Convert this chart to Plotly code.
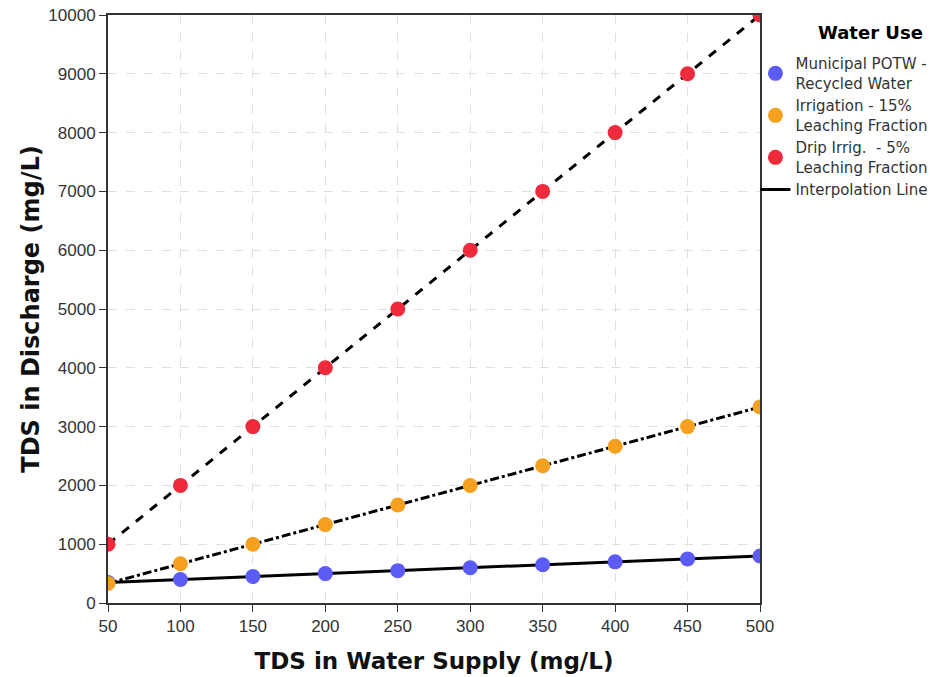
import plotly.graph_objects as go

supply = [50, 100, 150, 200, 250, 300, 350, 400, 450, 500]
municipal = [350, 400, 450, 500, 550, 600, 650, 700, 750, 800]
irrigation = [333, 667, 1000, 1333, 1667, 2000, 2333, 2667, 3000, 3333]
drip = [1000, 2000, 3000, 4000, 5000, 6000, 7000, 8000, 9000, 10000]
y_ticks = [0, 1000, 2000, 3000, 4000, 5000, 6000, 7000, 8000, 9000, 10000]

names = ["Municipal POTW -<br>Recycled Water",
         "Irrigation - 15%<br>Leaching Fraction",
         "Drip Irrig.  - 5%<br>Leaching Fraction"]
colors = ["#5b5bf5", "#f5a01e", "#ee2a3c"]
dashes = ["solid", "dashdot", "dash"]
series = [municipal, irrigation, drip]

fig = go.Figure()
for vals, d in zip(series, dashes):
    fig.add_trace(go.Scatter(x=supply, y=vals, mode="lines",
                             line=dict(color="black", width=3, dash=d),
                             showlegend=False, hoverinfo="skip"))
for vals, n, c in zip(series, names, colors):
    fig.add_trace(go.Scatter(x=supply, y=vals, mode="markers", name=n,
                             marker=dict(color=c, size=15)))
fig.add_trace(go.Scatter(x=[None], y=[None], mode="lines", name="Interpolation Line",
                         line=dict(color="black", width=3)))

fig.update_layout(
    width=946, height=677,
    margin=dict(l=108, r=186, t=15, b=74),
    plot_bgcolor="white", paper_bgcolor="white",
    font=dict(family="Arial, Liberation Sans", color="#333"),
    legend=dict(
        x=0.993, xanchor="left", y=0.945, yanchor="top",
        font=dict(size=15, color="#333", family="DejaVu Sans"),
        bgcolor="rgba(0,0,0,0)",
        itemwidth=30,
    ),
    showlegend=True,
    annotations=[dict(text="<b>Water Use</b>", xref="paper", yref="paper",
                      x=1.169, y=0.971, xanchor="center", yanchor="middle",
                      showarrow=False,
                      font=dict(size=18, color="black", family="DejaVu Sans"))],
)
fig.update_xaxes(
    range=[50, 500], tickvals=supply, ticks="outside", ticklen=7,
    tickcolor="#333", tickfont=dict(size=17, color="#333"),
    showline=True, linecolor="#333", linewidth=2, mirror=True,
    showgrid=True, gridcolor="#e0e0e0", griddash="dash", gridwidth=1,
    zeroline=False, automargin=False,
    title=dict(text="<b>TDS in Water Supply (mg/L)</b>",
               font=dict(size=23, color="#111", family="DejaVu Sans"), standoff=17),
)
fig.update_yaxes(
    range=[0, 10000], tickvals=y_ticks, ticktext=[str(v) for v in y_ticks],
    ticks="outside", ticklen=7, tickcolor="#333",
    tickfont=dict(size=17, color="#333"),
    showline=True, linecolor="#333", linewidth=2, mirror=True,
    showgrid=True, gridcolor="#e0e0e0", griddash="dash", gridwidth=1,
    zeroline=False, automargin=False,
    title=dict(text="<b>TDS in Discharge (mg/L)</b>",
               font=dict(size=24, color="#111", family="DejaVu Sans"), standoff=2),
)
fig.write_html("out.html", config={"displayModeBar": False},
               post_script="document.body.style.margin='0';")
